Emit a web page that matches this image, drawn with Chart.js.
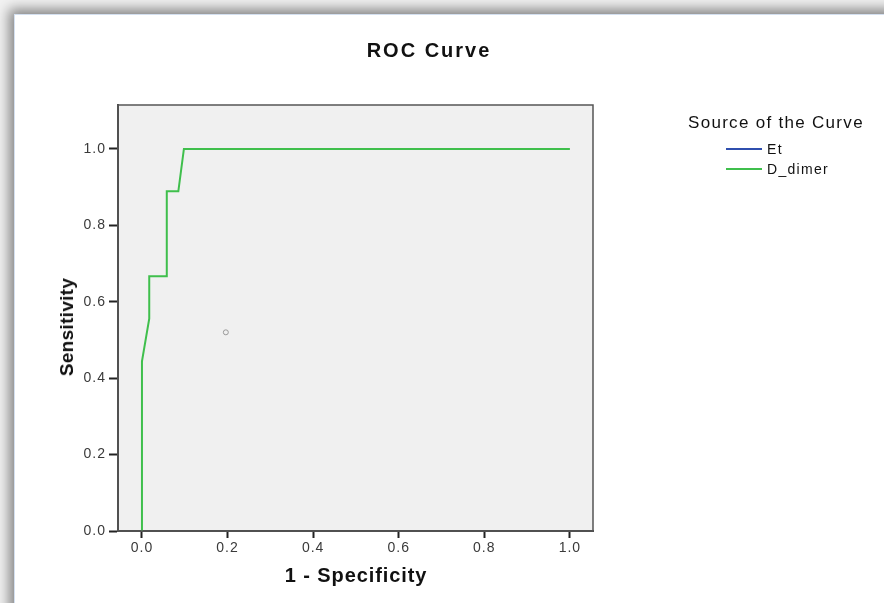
<!DOCTYPE html>
<html>
<head>
<meta charset="utf-8">
<title>ROC Curve</title>
<script src="https://cdn.jsdelivr.net/npm/chart.js@4/dist/chart.umd.min.js"></script>
<style>
  body { margin: 0; width: 884px; height: 603px; overflow: hidden; background: #f2f2f2; position: relative;
         font-family: "Liberation Sans", Arial, sans-serif; color: #111; }
  .frame { position: absolute; left: 14px; top: 14px; width: 900px; height: 620px; background: #fff;
           border-left: 1px solid #d4e0f0; border-top: 1px solid #d4e0f0;
           box-shadow: -2px -2px 12px 3px rgba(0,0,0,0.45); }
  #roc { position: absolute; left: 0; top: 0; }
  .txt { position: absolute; white-space: nowrap; }
  .title { left: 429px; top: 50px; transform: translate(-50%, -50%); font-weight: bold; font-size: 20px; letter-spacing: 2px; }
  .xtitle { left: 356px; top: 575px; transform: translate(-50%, -50%); font-weight: bold; font-size: 20px; letter-spacing: 0.9px; }
  .ytitle { left: 67px; top: 327px; transform: translate(-50%, -50%) rotate(-90deg); font-weight: bold; font-size: 19px; letter-spacing: 0.3px; }
  .ltitle { left: 688px; top: 123px; transform: translateY(-50%); font-size: 17px; letter-spacing: 1.3px; }
  .litem { left: 767px; transform: translateY(-50%); font-size: 14px; letter-spacing: 1.3px; }
  .lline { position: absolute; left: 726px; width: 36px; height: 2px; }
</style>
</head>
<body>
<div class="frame"></div>
<canvas id="roc" width="884" height="603"></canvas>
<div class="txt title">ROC Curve</div>
<div class="txt xtitle">1 - Specificity</div>
<div class="txt ytitle">Sensitivity</div>
<div class="txt ltitle">Source of the Curve</div>
<div class="lline" style="top:148px;background:#2f4fae"></div>
<div class="txt litem" style="top:149px">Et</div>
<div class="lline" style="top:168px;background:#3fbf4c"></div>
<div class="txt litem" style="top:169px">D_dimer</div>
<script>
// values
const tickValues = [0, 0.2, 0.4, 0.6, 0.8, 1.0];
const dDimerFpr  = [0, 0, 0.017, 0.017, 0.058, 0.058, 0.085, 0.098, 1.0];
const dDimerSens = [0, 0.444, 0.556, 0.667, 0.667, 0.889, 0.889, 1.0, 1.0];
const etFpr  = [];
const etSens = [];
const markerFpr  = [0.196];
const markerSens = [0.52];

function toPoints(xs, ys) {
  return xs.map((x, i) => ({ x: x, y: ys[i] }));
}

// grey plot background + frame round it
const plotBg = {
  id: 'plotBg',
  beforeDraw(chart) {
    const { ctx, chartArea: a } = chart;
    ctx.save();
    ctx.fillStyle = '#f0f0f0';
    ctx.fillRect(a.left, a.top, a.width, a.height);
    ctx.restore();
    ctx.letterSpacing = '1px';
  },
  afterDraw(chart) {
    const { ctx, chartArea: a } = chart;
    ctx.save();
    ctx.strokeStyle = '#555';
    ctx.lineWidth = 1.5;
    ctx.strokeRect(a.left, a.top, a.width, a.height);
    ctx.restore();
  }
};

const tickGrid = (len) => ({
  drawOnChartArea: false,
  drawTicks: true,
  tickLength: len,
  tickWidth: 2,
  tickColor: '#222'
});

new Chart(document.getElementById('roc'), {
  type: 'scatter',
  data: {
    datasets: [
      {
        label: 'Et',
        data: toPoints(etFpr, etSens),
        borderColor: '#2f4fae',
        showLine: true,
        pointRadius: 0,
        borderWidth: 2
      },
      {
        label: 'D_dimer',
        data: toPoints(dDimerFpr, dDimerSens),
        borderColor: '#3fbf4c',
        backgroundColor: '#3fbf4c',
        showLine: true,
        tension: 0,
        pointRadius: 0,
        borderWidth: 2
      },
      {
        label: 'marker',
        data: toPoints(markerFpr, markerSens),
        showLine: false,
        pointRadius: 2.5,
        pointBorderColor: '#9a9a9a',
        pointBackgroundColor: 'rgba(0,0,0,0)',
        pointBorderWidth: 1
      }
    ]
  },
  options: {
    responsive: false,
    animation: false,
    devicePixelRatio: 1,
    layout: { padding: { left: 0, right: 291, top: 105, bottom: 0 } },
    plugins: {
      legend: { display: false },
      title: { display: false },
      tooltip: { enabled: false }
    },
    scales: {
      x: {
        type: 'linear',
        min: -0.056,
        max: 1.054,
        afterBuildTicks: s => { s.ticks = tickValues.map(v => ({ value: v })); },
        afterFit: s => { s.height = 72; },
        ticks: {
          color: '#3a3a3a',
          font: { family: '"Liberation Sans", Arial, sans-serif', size: 14 },
          padding: 2,
          maxRotation: 0,
          callback: v => v.toFixed(1)
        },
        grid: tickGrid(7),
        border: { color: '#444', width: 2 }
      },
      y: {
        type: 'linear',
        min: 0,
        max: 1.115,
        afterBuildTicks: s => { s.ticks = tickValues.map(v => ({ value: v })); },
        afterFit: s => { s.width = 118; },
        ticks: {
          color: '#3a3a3a',
          font: { family: '"Liberation Sans", Arial, sans-serif', size: 14 },
          padding: 3,
          callback: v => v.toFixed(1)
        },
        grid: tickGrid(9),
        border: { color: '#444', width: 2 }
      }
    }
  },
  plugins: [plotBg]
});
</script>
</body>
</html>
